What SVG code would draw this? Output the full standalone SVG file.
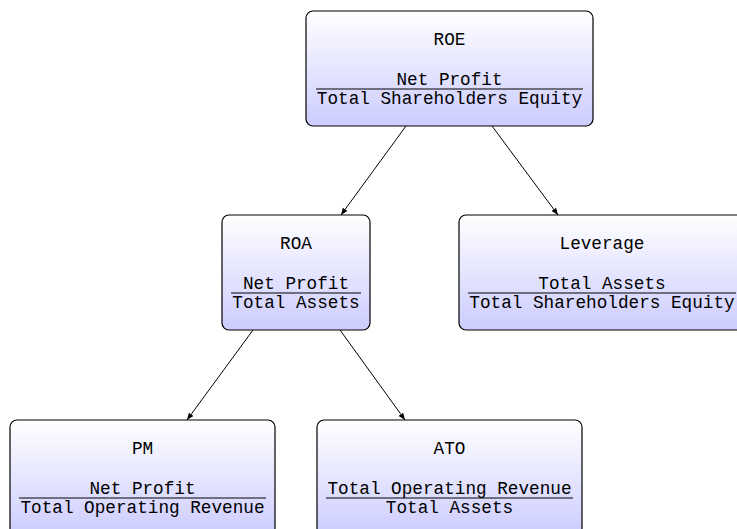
<svg xmlns="http://www.w3.org/2000/svg" width="737" height="529" viewBox="0 0 737 529">
<defs>
<linearGradient id="g" x1="0" y1="0" x2="0" y2="1">
<stop offset="0" stop-color="#ffffff"/>
<stop offset="1" stop-color="#ccccff"/>
</linearGradient>
<marker id="ah" viewBox="0 0 10 10" refX="10" refY="5" markerWidth="7" markerHeight="7" markerUnits="userSpaceOnUse" orient="auto">
<path d="M0,1 L10,5 L0,9 Z" fill="#000"/>
</marker>
<style>
.box{fill:url(#g);stroke:#000;stroke-width:1.2}
.t{font-family:"Liberation Mono","DejaVu Sans Mono",monospace;font-size:17.7px;fill:#000;text-anchor:middle}
.fr{stroke:#000;stroke-width:1}
.c{stroke:#000;stroke-width:1;fill:none;marker-end:url(#ah)}
</style>
</defs>
<g id="connectors">
<line class="c" x1="406" y1="126" x2="341" y2="215"/>
<line class="c" x1="492" y1="126" x2="558" y2="215"/>
<line class="c" x1="253" y1="330" x2="187" y2="420"/>
<line class="c" x1="340" y1="330" x2="405" y2="420"/>
</g>
<g id="ROE">
<rect class="box" x="306" y="11" width="287" height="115" rx="7"/>
<text class="t" x="449.5" y="45">ROE</text>
<text class="t" x="449.5" y="85">Net Profit</text>
<line class="fr" x1="316" y1="89" x2="583" y2="89"/>
<text class="t" x="449.5" y="104">Total Shareholders Equity</text>
</g>
<g id="ROA">
<rect class="box" x="222" y="215" width="148" height="115" rx="7"/>
<text class="t" x="296" y="249">ROA</text>
<text class="t" x="296" y="289">Net Profit</text>
<line class="fr" x1="231" y1="293" x2="361" y2="293"/>
<text class="t" x="296" y="308">Total Assets</text>
</g>
<g id="Leverage">
<rect class="box" x="459" y="215" width="287" height="115" rx="7"/>
<text class="t" x="602" y="249">Leverage</text>
<text class="t" x="602" y="289">Total Assets</text>
<line class="fr" x1="468" y1="293" x2="736" y2="293"/>
<text class="t" x="602" y="308">Total Shareholders Equity</text>
</g>
<g id="PM">
<rect class="box" x="10" y="420" width="265" height="115" rx="7"/>
<text class="t" x="142.5" y="454">PM</text>
<text class="t" x="142.5" y="494">Net Profit</text>
<line class="fr" x1="19" y1="498" x2="266" y2="498"/>
<text class="t" x="142.5" y="513">Total Operating Revenue</text>
</g>
<g id="ATO">
<rect class="box" x="317" y="420" width="265" height="115" rx="7"/>
<text class="t" x="449.5" y="454">ATO</text>
<text class="t" x="449.5" y="494">Total Operating Revenue</text>
<line class="fr" x1="326" y1="498" x2="573" y2="498"/>
<text class="t" x="449.5" y="513">Total Assets</text>
</g>
</svg>
